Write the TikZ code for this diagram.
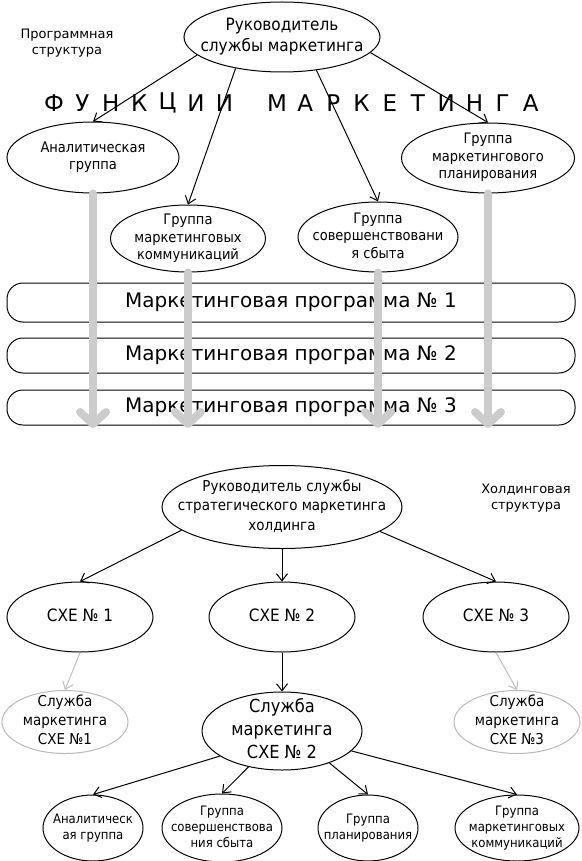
\documentclass[tikz,border=0pt]{standalone}
\usepackage{fontspec}
\setmainfont{DejaVu Sans}
\newfontfamily\condfont{DejaVu Sans Condensed}
\usetikzlibrary{arrows.meta,shapes.geometric}

% centred lines that do not widen the ellipse
\newcommand\inside[1]{\smash{\makebox[0pt]{\raisebox{\dimexpr(\depth-\height)/2\relax}{%
  \begin{tabular}[b]{@{}c@{}}#1\end{tabular}}}}}

\begin{document}
\begin{tikzpicture}[x=1pt, y=-1pt,
  every node/.style={inner sep=0pt},
  size/.style 2 args={minimum width=#1pt, minimum height=#2pt},
  unit/.style={draw, ellipse, line width=1pt},
  head/.style={unit, font=\condfont\fontsize{17}{21}\selectfont},
  group/.style={unit, font=\condfont\fontsize{14.5}{17.5}\selectfont},
  sxe/.style={unit, font=\condfont\fontsize{17}{21}\selectfont},
  service/.style={unit, draw=gray!55, font=\condfont\fontsize{15}{19}\selectfont},
  small/.style={unit, font=\condfont\fontsize{13}{16}\selectfont},
  prog/.style={draw, rounded corners=16pt, line width=1pt, minimum width=568pt,
               font=\fontsize{20}{24}\selectfont},
  title/.style={font=\fontsize{23}{27}\selectfont},
  note/.style={align=center, font=\fontsize{13}{16.5}\selectfont},
  arr/.style={-{Straight Barb[length=7pt,width=11pt]}, line width=1pt},
  greyarr/.style={arr, draw=gray!50},
  flow/.style={draw=gray!40, line width=8pt, line cap=round,
               -{Straight Barb[length=12pt,width=26pt,round]}}
]
  \useasboundingbox (0,0) rectangle (581,861);

  % Programme structure
  \node[note] (prg) at (67,43) {Программная\\структура};
  \node[head, size={196}{70}] (lead) at (282,37) {\inside{Руководитель\\службы маркетинга}};

  \foreach \ch [count=\i from 0] in {Ф,У,Н,К,Ц,И,И}
    \node[title] (fa\i) at ({54+28.4*\i},103) {\ch};
  \foreach \ch [count=\i from 0] in {М,А,Р,К,Е,Т,И,Н,Г,А}
    \node[title] (fb\i) at ({277+28.2*\i},103) {\ch};

  \node[group, size={172}{71}] (ana)  at (93,157.5) {\inside{Аналитическая\\группа}};
  \node[group, size={173}{70}] (plan) at (488,158)  {\inside{Группа\\маркетингового\\планирования}};
  \node[group, size={155}{67}] (comm) at (188,238.5) {\inside{Группа\\маркетинговых\\коммуникаций}};
  \node[group, size={160}{70}] (sale) at (378,237)  {\inside{Группа\\совершенствовани\\я сбыта}};

  \draw[arr] (lead.192) -- (ana.north);
  \draw[arr] (lead.214) -- (comm.north);
  \draw[arr] (lead.316) -- (sale.north);
  \draw[arr] (lead.350) -- (plan.north);

  % Programme bars
  \node[prog, minimum height=39pt] (bar1) at (291,302.5) {Маркетинговая программа № 1};
  \node[prog, minimum height=35pt] (bar2) at (291,355.5) {Маркетинговая программа № 2};
  \node[prog, minimum height=35pt] (bar3) at (291,407.5) {Маркетинговая программа № 3};

  \coordinate (d1) at (93,428);
  \coordinate (d2) at (188,428);
  \coordinate (d3) at (378,428);
  \coordinate (d4) at (488,428);
  \draw[flow] (ana.south)  -- (d1);
  \draw[flow] (comm.south) -- (d2);
  \draw[flow] (sale.south) -- (d3);
  \draw[flow] (plan.south) -- (d4);

  % Holding structure
  \node[note] (hld) at (526,498) {Холдинговая\\структура};
  \node[group, font=\condfont\fontsize{15}{19.5}\selectfont, size={240}{83}] (hold) at (282,507)
    {\inside{Руководитель службы\\стратегического маркетинга\\холдинга}};

  \node[sxe, size={146}{70}] (sxe1) at (80,617)  {\inside{СХЕ № 1}};
  \node[sxe, size={146}{70}] (sxe2) at (282,617) {\inside{СХЕ № 2}};
  \node[sxe, size={146}{70}] (sxe3) at (496,617) {\inside{СХЕ № 3}};

  \draw[arr] (hold.193.5) -- (sxe1.north);
  \draw[arr] (hold.south) -- (sxe2.north);
  \draw[arr] (hold.346.5) -- (sxe3.north);

  \node[service, size={126}{63}] (srv1) at (65,722)  {\inside{Служба\\маркетинга\\СХЕ №1}};
  \node[service, size={126}{63}] (srv3) at (517,722) {\inside{Служба\\маркетинга\\СХЕ №3}};
  \node[sxe, font=\condfont\fontsize{18}{23}\selectfont, size={160}{78}] (srv2) at (282,731)
    {\inside{Служба\\маркетинга\\СХЕ № 2}};

  \draw[greyarr] (sxe1.south) -- (srv1.north);
  \draw[greyarr] (sxe3.south) -- (srv3.north);
  \draw[arr] (sxe2.south) -- (srv2.north);

  \node[small, size={100}{66}] (g1) at (93,828)  {\inside{Аналитическ\\ая группа}};
  \node[small, size={120}{68}] (g2) at (222,828) {\inside{Группа\\совершенствова\\ния сбыта}};
  \node[small, size={100}{66}] (g3) at (368,828) {\inside{Группа\\планирования}};
  \node[small, size={124}{66}] (g4) at (517,828) {\inside{Группа\\маркетинговых\\коммуникаций}};

  \draw[arr] (srv2.202) -- (g1.north);
  \draw[arr] (srv2.227) -- (g2.north);
  \draw[arr] (srv2.326) -- (g3.north);
  \draw[arr] (srv2.344) -- (g4.north);
\end{tikzpicture}
\end{document}
